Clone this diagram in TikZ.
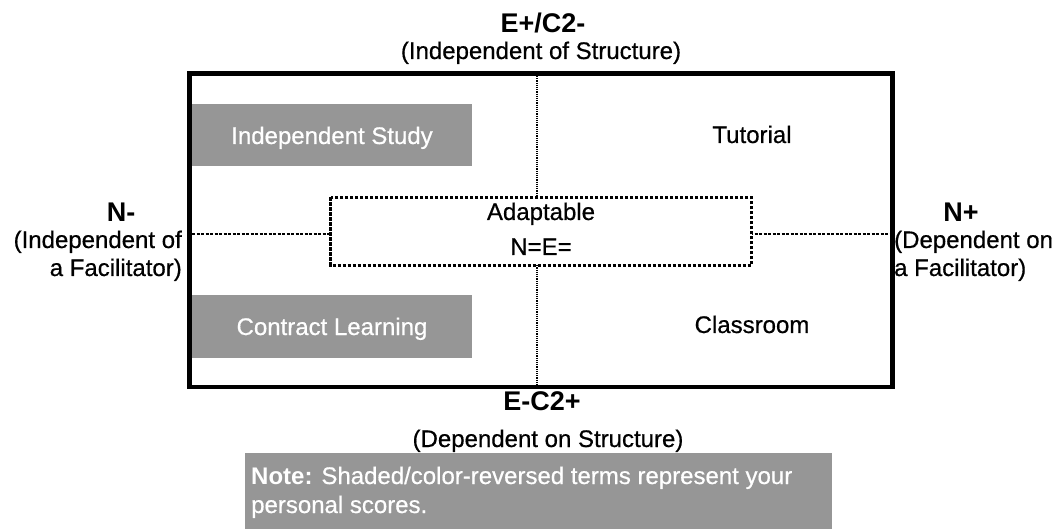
\documentclass[tikz,border=0pt]{standalone}
\usepackage{fontspec}
\setmainfont{Liberation Sans}[UprightFeatures={FakeBold=0.6}]
\definecolor{boxgray}{RGB}{150,150,150}
\tikzset{
  lbl/.style={inner sep=0pt, anchor=base, font=\fontsize{24}{28}\selectfont},
  head/.style={inner sep=0pt, anchor=base, font=\fontsize{27}{31}\selectfont\bfseries},
  graybox/.style={fill=boxgray, draw=none},
  boxtxt/.style={inner sep=0pt, anchor=base, text=white, font=\fontsize{24}{28}\selectfont},
}
\begin{document}
\begin{tikzpicture}[x=1pt,y=-1pt]
\useasboundingbox (0,0) rectangle (1063,529);
% quadrant lines
\coordinate (vt) at (537,76);
\coordinate (vb) at (537,385);
\coordinate (hl) at (192,234.5);
\coordinate (hr) at (890,234.5);
\draw[line width=1.2pt, densely dotted] (vt) -- (vb);
\draw[line width=2pt, dash pattern=on 3pt off 1.5pt] (hl) -- (hr);
% main frame
\draw[line width=4.6pt] (189.7,73.8) rectangle (892.5,387);
% shaded boxes
\fill[graybox] (192,104) rectangle (472,166.5);
\node[boxtxt] (is) at (332,144) {Independent Study};
\fill[graybox] (192,295.5) rectangle (472,357.5);
\node[boxtxt] (cl) at (332,335) {Contract Learning};
% adaptable box
\draw[fill=white, line width=2.5pt, dash pattern=on 3.5pt off 1.5pt] (330.7,197.5) rectangle (751.5,265.5);
\node[lbl] (ad) at (541,220) {Adaptable};
\node[lbl] (ne) at (541,255) {N=E=};
% other quadrant labels
\node[lbl] (tu) at (752,143) {Tutorial};
\node[lbl] (cr) at (752,333) {Classroom};
% top
\node[head] (top) at (543,33) {E+/C2-};
\node[lbl] (topsub) at (541,59) {(Independent of Structure)};
% bottom
\node[head] (bot) at (542,410) {E-C2+};
\node[lbl] (botsub) at (548,447) {(Dependent on Structure)};
% left
\node[head] (nm) at (121,222) {N-};
\node[lbl, anchor=base east] (nm1) at (182,248) {(Independent of};
\node[lbl, anchor=base east] (nm2) at (182,276) {a Facilitator)};
% right
\node[head] (np) at (961,222) {N+};
\node[lbl, anchor=base west] (np1) at (894,248) {(Dependent on};
\node[lbl, anchor=base west] (np2) at (894,276) {a Facilitator)};
% note
\fill[graybox] (245,453) rectangle (832,529);
\node[boxtxt, anchor=base west] (note1) at (251,484) {\textbf{Note:} Shaded/color-reversed terms represent your};
\node[boxtxt, anchor=base west] (note2) at (251,513) {personal scores.};
\end{tikzpicture}
\end{document}
